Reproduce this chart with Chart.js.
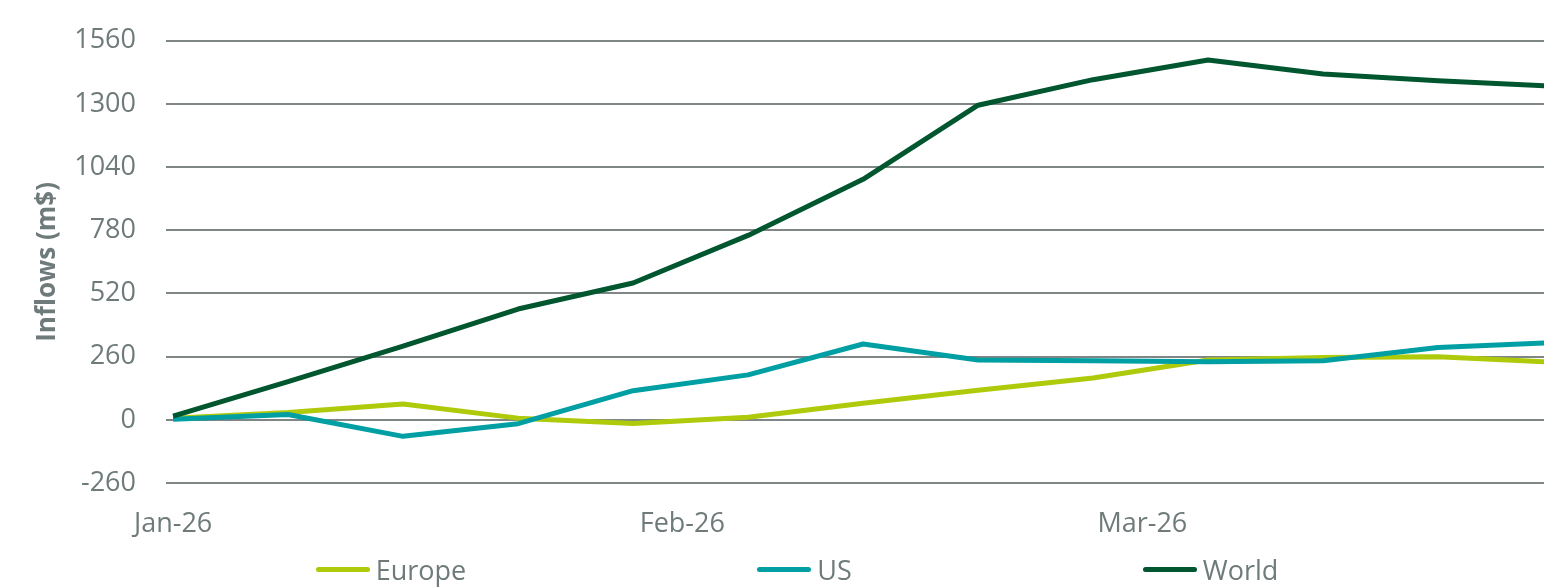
<!DOCTYPE html>
<html>
<head>
<meta charset="utf-8">
<script src="https://cdn.jsdelivr.net/npm/chart.js@4.4.1/dist/chart.umd.min.js"></script>
<style>
    body { margin: 0; background: #fff; }
    #wrap { position: relative; width: 1544px; height: 587px; }
    #legend {
        position: absolute; left: 0; top: 551px; width: 1544px; height: 36px;
        display: flex; justify-content: center; align-items: center;
        gap: 291px; padding-left: 50px; box-sizing: border-box;
        font-family: "Open Sans", sans-serif; font-size: 27px; color: #6f7b7b;
    }
    .item { display: flex; align-items: center; }
    .swatch { display: inline-block; width: 54px; height: 5px; border-radius: 3px; margin-right: 6px; }
</style>
</head>
<body>
<div id="wrap">
    <canvas id="chart_canvas" width="1544" height="587"></canvas>
    <div id="legend"></div>
</div>
<script>
/* weekly inflows, day offset from 1 Jan 2026 */
const days = [0, 7, 14, 21, 28, 35, 42, 49, 56, 63, 70, 77, 84];

const europe = [7, 30, 65, 7, -15, 11, 68, 122, 172, 246, 257, 260, 237];
const us     = [2, 22, -68, -16, 120, 185, 312, 246, 243, 239, 243, 298, 318];
const world  = [15, 157, 303, 456, 563, 759, 990, 1295, 1400, 1481, 1423, 1396, 1373];

const tickDays   = [0, 31, 59];
const tickLabels = ["Jan-26", "Feb-26", "Mar-26"];

const seriesNames = ["Europe", "US", "World"];
const colours     = ["#afca0b", "#009fa3", "#00562f"];

const grey = "#6f7b7b";

function points ( values )
{
    return values.map((v, ii) => ({ x: days[ii], y: v }));
}

const seriesValues = [ europe, us, world ];
const drawOrder = [ 2, 1, 0 ];   // world on top, then US

const data = { datasets: [] };
for ( let ii = 0; ii < seriesNames.length; ++ii )
{
    data.datasets.push({
        label: seriesNames[ii],
        data: points(seriesValues[ii]),
        borderColor: colours[ii],
        backgroundColor: colours[ii],
        borderWidth: 5,
        pointRadius: 0,
        tension: 0,
        borderJoinStyle: "round",
        order: drawOrder[ii]
    });
}

const tickFont = { family: "'Open Sans', sans-serif", size: 27 };

const options =
{
    responsive: false,
    animation: false,
    layout: { padding: { top: 40, left: 28, right: 0, bottom: 47 } },
    scales:
    {
        x:
        {
            type: "linear",
            min: -0.43,
            max: 83.45,
            grid: { display: false, drawTicks: false },
            border: { display: false },
            afterBuildTicks: function (axis)
            {
                axis.ticks = tickDays.map(d => ({ value: d }));
            },
            afterFit: function (scale) { scale.height = 57; },
            ticks:
            {
                padding: 25,
                color: grey,
                font: tickFont,
                maxRotation: 0,
                callback: function (value)
                {
                    const k = tickDays.indexOf(value);
                    return k >= 0 ? tickLabels[k] : "";
                }
            }
        },
        y:
        {
            min: -260,
            max: 1560,
            grid: { color: "#7f8686", lineWidth: 2, drawTicks: false },
            border: { display: false },
            afterFit: function (scale) { scale.width = 138; },
            ticks:
            {
                stepSize: 260, padding: 30, color: grey,
                font: { family: "'Open Sans', sans-serif", size: 27, lineHeight: 0.8 },
                callback: function (value) { return String(value); }
            },
            title:
            {
                display: true,
                text: "Inflows (m$)",
                color: grey,
                font: { family: "'Open Sans', sans-serif", size: 26, weight: "bold" },
                padding: { top: 4, bottom: 4 }
            }
        }
    },
    plugins:
    {
        legend: { display: false },
        tooltip: { enabled: false }
    }
};

const chart = new Chart( document.getElementById("chart_canvas"), { type: "line", data: data, options: options } );

// legend below the plot
const legend = document.getElementById("legend");
for ( let ii = 0; ii < seriesNames.length; ++ii )
{
    const item = document.createElement("div");
    item.className = "item";
    const sw = document.createElement("span");
    sw.className = "swatch";
    sw.style.background = colours[ii];
    const txt = document.createElement("span");
    txt.textContent = seriesNames[ii];
    item.appendChild(sw);
    item.appendChild(txt);
    legend.appendChild(item);
}
</script>
</body>
</html>
